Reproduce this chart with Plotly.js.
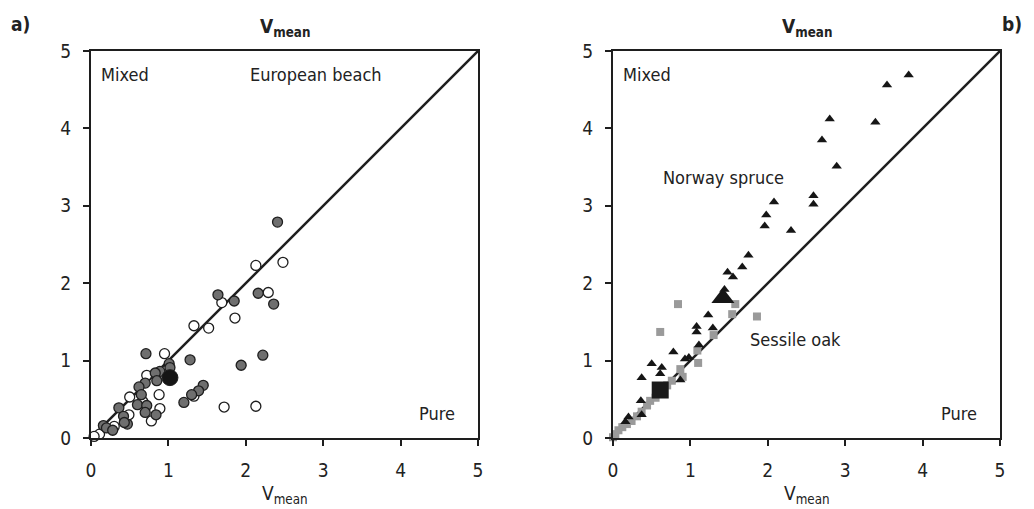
<!DOCTYPE html>
<html><head><meta charset="utf-8">
<script src="https://cdn.plot.ly/plotly-3.0.1.min.js"></script>
<style>html,body{margin:0;padding:0;background:#fff}#chart{width:1034px;height:509px}</style>
</head><body><div id="chart"></div>
<script>
// ---- Panel a) European beech ----
const beechGreyX = [1.64,1.85,2.16,2.36,2.41,0.71,1.28,1.01,1.02,2.22,1.94,0.89,0.83,0.85,0.70,0.62,1.45,1.39,1.30,1.20,0.65,0.60,0.72,0.36,0.70,0.84,0.42,0.47,0.43,0.16,0.20,0.28];
const beechGreyY = [1.85,1.77,1.87,1.73,2.79,1.09,1.01,0.96,0.91,1.07,0.94,0.86,0.84,0.74,0.71,0.66,0.68,0.61,0.56,0.46,0.56,0.43,0.42,0.39,0.33,0.30,0.28,0.18,0.20,0.16,0.13,0.10];
const beechWhiteX = [1.69,2.29,2.13,2.48,1.33,1.52,1.86,0.95,0.72,0.50,0.88,0.67,0.89,1.33,1.72,2.13,0.49,0.78,0.30,0.11,0.04];
const beechWhiteY = [1.75,1.88,2.23,2.27,1.45,1.42,1.55,1.09,0.81,0.53,0.56,0.47,0.38,0.54,0.40,0.41,0.30,0.22,0.15,0.05,0.02];
const beechMeanX = [1.02];
const beechMeanY = [0.78];

// ---- Panel b) Norway spruce & Sessile oak ----
const spruceX = [3.82,3.54,2.80,3.39,2.70,2.89,2.59,2.59,2.30,2.08,1.98,1.96,1.75,1.67,1.48,1.55,1.44,1.23,1.08,1.08,1.29,1.11,0.78,0.98,0.93,0.50,0.63,0.61,0.37,0.87,0.36,0.37,0.20,0.16];
const spruceY = [4.69,4.56,4.12,4.08,3.85,3.51,3.13,3.02,2.68,3.05,2.88,2.74,2.36,2.21,2.14,2.08,1.92,1.59,1.44,1.37,1.42,1.20,1.11,1.04,1.02,0.96,0.91,0.83,0.78,0.75,0.48,0.30,0.27,0.21];
const spruceMeanX = [1.42];
const spruceMeanY = [1.81];
const oakX = [0.84,1.58,1.54,1.86,1.30,0.61,1.09,1.10,0.87,0.90,0.76,0.70,0.55,0.48,0.44,0.37,0.31,0.24,0.18,0.12,0.07,0.03,0.00];
const oakY = [1.73,1.73,1.60,1.57,1.33,1.37,1.13,0.97,0.89,0.79,0.74,0.68,0.52,0.48,0.42,0.34,0.28,0.22,0.18,0.14,0.10,0.05,0.01];
const oakMeanX = [0.61];
const oakMeanY = [0.62];

const lineX = [0,5];
const lineY = [0,5];
const tickVals = [0,1,2,3,4,5];

const FONT = "'Liberation Sans Narrow','DejaVu Sans Condensed','Roboto Condensed',Arial,sans-serif";
const dark = '#1e1e1e';
const TXT = '#222';

const traces = [
  {x: lineX, y: lineY, mode:'lines', line:{color:dark,width:2.5}, xaxis:'x', yaxis:'y', hoverinfo:'skip'},
  {x: beechWhiteX, y: beechWhiteY, mode:'markers', marker:{symbol:'circle', size:10, color:'#ffffff', line:{color:dark,width:1.3}}, xaxis:'x', yaxis:'y', cliponaxis:false},
  {x: beechGreyX, y: beechGreyY, mode:'markers', marker:{symbol:'circle', size:10, color:'#6f6f6f', line:{color:dark,width:1.3}}, xaxis:'x', yaxis:'y', cliponaxis:false},
  {x: beechMeanX, y: beechMeanY, mode:'markers', marker:{symbol:'circle', size:16, color:'#151515', line:{color:dark,width:1}}, xaxis:'x', yaxis:'y'},
  {x: lineX, y: lineY, mode:'lines', line:{color:dark,width:2.5}, xaxis:'x2', yaxis:'y2', hoverinfo:'skip'},
  {x: oakX, y: oakY, mode:'markers', marker:{symbol:'square', size:8, color:'#9a9a9a', line:{width:0}}, xaxis:'x2', yaxis:'y2', cliponaxis:false},
  {x: spruceX, y: spruceY, mode:'markers', marker:{symbol:'triangle-up', size:9, color:'#161616', line:{width:0}}, xaxis:'x2', yaxis:'y2', cliponaxis:false},
  {x: spruceMeanX, y: spruceMeanY, mode:'markers', marker:{symbol:'triangle-up', size:20, color:'#161616', line:{width:0}}, xaxis:'x2', yaxis:'y2'},
  {x: oakMeanX, y: oakMeanY, mode:'markers', marker:{symbol:'square', size:17, color:'#1a1a1a', line:{width:0}}, xaxis:'x2', yaxis:'y2'}
];

function ax(domain, anchor){
  return {domain: domain, anchor: anchor, range:[0,5], tickvals: tickVals, ticktext: tickVals.map(String),
    showgrid:false, zeroline:false, showline:true, mirror:true, linecolor:dark, linewidth:2,
    ticks:'outside', ticklen:6, tickwidth:2, tickcolor:dark, ticklabelstandoff:8,
    tickfont:{family:FONT, size:19, color:TXT}, fixedrange:true};
}

const xd1 = [91/1034, 478/1034], xd2 = [613/1034, 1000/1034], yd = [71/509, 458/509];
function ann(text, xref, yref, x, y, size, extra){
  return Object.assign({text:text, xref:xref, yref:yref, x:x, y:y, showarrow:false, yanchor:'middle', xanchor:'center', font:{family:FONT,size:size,color:TXT}}, extra||{});
}
const layout = {
  width:1034, height:509, margin:{l:0,r:0,t:0,b:0}, showlegend:false,
  paper_bgcolor:'#fff', plot_bgcolor:'#fff',
  xaxis: ax(xd1,'y'), yaxis: ax(yd,'x'),
  xaxis2: ax(xd2,'y2'), yaxis2: ax(yd,'x2'),
  annotations: [
    ann('<b>a)</b>','paper','paper',20/1034,1-24/509,19),
    ann('<b>b)</b>','paper','paper',1012/1034,1-24/509,19),
    ann('<b>V<sub>mean</sub></b>','x domain','paper',0.5,1-27/509,19),
    ann('<b>V<sub>mean</sub></b>','x2 domain','paper',0.5,1-27/509,19),
    ann('V<sub>mean</sub>','x domain','paper',0.5,1-494/509,19),
    ann('V<sub>mean</sub>','x2 domain','paper',0.5,1-494/509,19),
    ann('Mixed','x','y',0.1,4.69,18,{xanchor:'left'}),
    ann('European beach','x','y',2.91,4.69,18),
    ann('Pure','x','y',4.47,0.32,18),
    ann('Mixed','x2','y2',0.1,4.69,18,{xanchor:'left'}),
    ann('Norway spruce','x2','y2',1.43,3.37,18),
    ann('Sessile oak','x2','y2',2.36,1.27,18),
    ann('Pure','x2','y2',4.47,0.32,18)
  ]
};
Plotly.newPlot('chart', traces, layout, {displayModeBar:false, staticPlot:true});
</script></body></html>
